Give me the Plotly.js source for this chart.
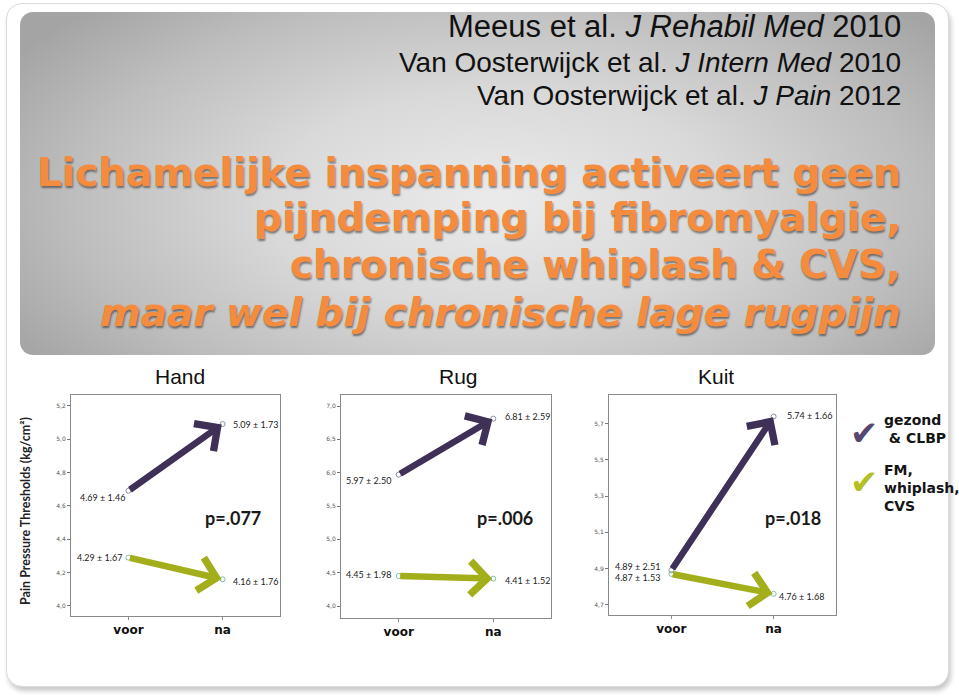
<!DOCTYPE html>
<html>
<head>
<meta charset="utf-8">
<script src="https://cdn.plot.ly/plotly-3.0.1.min.js"></script>
<style>
  html, body { margin:0; padding:0; background:#ffffff; overflow:hidden; }
  #wrap { position:relative; width:959px; height:697px; }
  #card { position:absolute; left:6px; top:3px; width:941px; height:682px; background:#ffffff;
          border:1px solid #dcdcdc; border-radius:16px; box-shadow:2px 4px 5px rgba(0,0,0,0.22); }
  #banner { position:absolute; left:20px; top:12px; width:915px; height:343px; border-radius:13px;
            background: radial-gradient(ellipse 62% 80% at 52% 55%, #ebebeb 0%, #d9d9d9 40%, #bdbdbd 75%, #a4a4a4 100%); }
  #chart { position:absolute; left:0; top:0; width:959px; height:697px; }
</style>
</head>
<body>
<div id="wrap">
  <div id="card"></div>
  <div id="banner"></div>
  <div id="chart"></div>
</div>
<script>
// ---------- data ----------
const phases = ["voor", "na"];
const groupNames = ["gezond & CLBP", "FM, whiplash, CVS"];
const panelTitles = ["Hand", "Rug", "Kuit"];
const pValues = ["p=.077", "p=.006", "p=.018"];

const handHealthy = [4.69, 5.09];
const handHealthySD = [1.46, 1.73];
const handPatient = [4.29, 4.16];
const handPatientSD = [1.67, 1.76];

const rugHealthy = [5.97, 6.81];
const rugHealthySD = [2.50, 2.59];
const rugPatient = [4.45, 4.41];
const rugPatientSD = [1.98, 1.52];

const kuitHealthy = [4.89, 5.74];
const kuitHealthySD = [2.51, 1.66];
const kuitPatient = [4.87, 4.76];
const kuitPatientSD = [1.53, 1.68];

const handTicks = [4.0, 4.2, 4.4, 4.6, 4.8, 5.0, 5.2];
const rugTicks = [4.0, 4.5, 5.0, 5.5, 6.0, 6.5, 7.0];
const kuitTicks = [4.7, 4.9, 5.1, 5.3, 5.5, 5.7];

const citations = [
  "Meeus et al. <i>J Rehabil Med</i> 2010",
  "Van Oosterwijck et al. <i>J Intern Med</i> 2010",
  "Van Oosterwijck et al. <i>J Pain</i> 2012"
];
const headline = [
  "Lichamelijke inspanning activeert geen",
  "pijndemping bij fibromyalgie,",
  "chronische whiplash &amp; CVS,",
  "<i>maar wel bij chronische lage rugpijn</i>"
];

// ---------- styling ----------
const W = 959, H = 697;
const PX = v => v / W;
const PY = v => 1 - v / H;
const PURPLE = "#3f3058";
const GREEN = "#a3ae1b";
const CHECK_PURPLE = "#56476e";
const CHECK_GREEN = "#b3bf22";

const panels = [
  { h: handHealthy, hsd: handHealthySD, p: handPatient, psd: handPatientSD, ticks: handTicks,
    xd: [PX(71), PX(280)], yd: [PY(616), PY(395)], yr: [3.94, 5.264], cx: 180,
    off: { h0: [-1, -7], h1: [8, 0], p0: [-4, 0], p1: [8, -2] } },
  { h: rugHealthy, hsd: rugHealthySD, p: rugPatient, psd: rugPatientSD, ticks: rugTicks,
    xd: [PX(341), PX(551)], yd: [PY(618), PY(395)], yr: [3.82, 7.165], cx: 458,
    off: { h0: [-6, -6], h1: [10, 2], p0: [-6, 2], p1: [10, -2] } },
  { h: kuitHealthy, hsd: kuitHealthySD, p: kuitPatient, psd: kuitPatientSD, ticks: kuitTicks,
    xd: [PX(609), PX(836)], yd: [PY(615), PY(395)], yr: [4.643, 5.859], cx: 716,
    off: { h0: [-9, 4], h1: [11, 1], p0: [-9, -4], p1: [3, -3] } }
];

const fmt = (m, s) => m.toFixed(2) + " \u00b1 " + s.toFixed(2);

const traces = [];
const annotations = [];
const layout = {
  width: W, height: H,
  margin: { l: 0, r: 0, t: 0, b: 0 },
  paper_bgcolor: "rgba(0,0,0,0)",
  plot_bgcolor: "#ffffff",
  separators: ",.",
  showlegend: false,
  font: { family: "Lato, 'Open Sans', sans-serif", color: "#222" }
};

panels.forEach((pn, i) => {
  const k = i === 0 ? "" : String(i + 1);
  const xa = "x" + k, ya = "y" + k;
  layout["xaxis" + k] = {
    domain: pn.xd, range: [-0.61, 1.61], tickvals: [0, 1],
    ticktext: phases.map(s => "<b>" + s + "</b>"),
    tickfont: { family: "'DejaVu Sans', sans-serif", size: 12, color: "#111" },
    showline: true, mirror: true, linecolor: "#8a8a8a", linewidth: 1,
    ticks: "outside", ticklen: 3, tickcolor: "#8a8a8a", showgrid: false, zeroline: false,
    fixedrange: true, anchor: ya
  };
  layout["yaxis" + k] = {
    domain: pn.yd, range: pn.yr, tickvals: pn.ticks, tickformat: ".1f",
    tickfont: { family: "'DejaVu Sans', sans-serif", size: 6, color: "#555" },
    showline: true, mirror: true, linecolor: "#8a8a8a", linewidth: 1,
    ticks: "outside", ticklen: 3, tickcolor: "#777", showgrid: false, zeroline: false,
    anchor: xa, fixedrange: true
  };

  // markers
  traces.push({ x: [0, 1], y: pn.h, xaxis: xa, yaxis: ya, mode: "markers", name: groupNames[0],
    marker: { symbol: "circle-open", size: 5, color: "#8d90a6", line: { width: 1 } }, hoverinfo: "y" });
  traces.push({ x: [0, 1], y: pn.p, xaxis: xa, yaxis: ya, mode: "markers", name: groupNames[1],
    marker: { symbol: "circle-open", size: 5, color: "#7fc0a0", line: { width: 1 } }, hoverinfo: "y" });

  // arrows
  [[pn.h, PURPLE], [pn.p, GREEN]].forEach(([vals, col]) => {
    annotations.push({ xref: xa, yref: ya, axref: xa, ayref: ya,
      x: 1, y: vals[1], ax: 0, ay: vals[0], text: "", showarrow: true,
      arrowhead: 4, arrowsize: 1.0, arrowwidth: 6.5, arrowcolor: col, standoff: 1 });
  });

  // value labels
  const lab = (x, y, txt, o, anchor) => annotations.push({ xref: xa, yref: ya, x: x, y: y, text: txt,
    showarrow: false, xanchor: anchor, yanchor: "middle", xshift: o[0], yshift: o[1],
    font: { family: "Lato, sans-serif", size: 9, color: "#222" } });
  lab(0, pn.h[0], fmt(pn.h[0], pn.hsd[0]), pn.off.h0, "right");
  lab(1, pn.h[1], fmt(pn.h[1], pn.hsd[1]), pn.off.h1, "left");
  lab(0, pn.p[0], fmt(pn.p[0], pn.psd[0]), pn.off.p0, "right");
  lab(1, pn.p[1], fmt(pn.p[1], pn.psd[1]), pn.off.p1, "left");

  // p value
  const pxCenter = [233, 505, 793][i];
  annotations.push({ xref: "paper", yref: "paper", x: PX(pxCenter), y: PY(518), text: "<b>" + pValues[i] + "</b>",
    showarrow: false, xanchor: "center", yanchor: "middle",
    font: { family: "Lato, sans-serif", size: 18, color: "#1a1a1a" } });

  // panel title
  annotations.push({ xref: "paper", yref: "paper", x: PX(pn.cx), y: PY(376), text: panelTitles[i],
    showarrow: false, xanchor: "center", yanchor: "middle",
    font: { family: "'Liberation Sans', Arial, sans-serif", size: 21, color: "#111" } });
});

// y axis title
annotations.push({ xref: "paper", yref: "paper", x: PX(25), y: PY(511), textangle: -90,
  text: "<b>Pain Pressure Thresholds (kg/cm\u00b2)</b>", showarrow: false, xanchor: "center", yanchor: "middle",
  font: { family: "Lato, sans-serif", size: 12.5, color: "#222" } });

// citations
const citeSizes = [31, 28, 28];
[27, 62, 96].forEach((yy, j) => annotations.push({ xref: "paper", yref: "paper", x: PX(903), y: PY(yy),
  text: citations[j], showarrow: false, xanchor: "right", yanchor: "middle",
  font: { family: "'Liberation Sans', Arial, sans-serif", size: citeSizes[j], color: "#111" } }));

// headline
[172, 218, 265, 312].forEach((yy, j) => annotations.push({ xref: "paper", yref: "paper", x: PX(903), y: PY(yy),
  text: "<b>" + headline[j] + "</b>", showarrow: false, xanchor: "right", yanchor: "middle",
  font: { family: "'DejaVu Sans', sans-serif", size: 39, color: "#f58b3c",
          shadow: "1px 2px 2px rgba(0,0,0,0.45)" } }));

// custom legend
annotations.push({ xref: "paper", yref: "paper", x: PX(864), y: PY(433), text: "\u2714", showarrow: false,
  xanchor: "center", yanchor: "middle", font: { family: "'DejaVu Sans', sans-serif", size: 34, color: CHECK_PURPLE } });
annotations.push({ xref: "paper", yref: "paper", x: PX(864), y: PY(482), text: "\u2714", showarrow: false,
  xanchor: "center", yanchor: "middle", font: { family: "'DejaVu Sans', sans-serif", size: 34, color: CHECK_GREEN } });
annotations.push({ xref: "paper", yref: "paper", x: PX(882), y: PY(429), text: "<b>gezond<br> &amp; CLBP</b>",
  showarrow: false, xanchor: "left", yanchor: "middle", align: "left",
  font: { family: "'DejaVu Sans', sans-serif", size: 14, color: "#151515" } });
annotations.push({ xref: "paper", yref: "paper", x: PX(882), y: PY(488), text: "<b>FM,<br>whiplash,<br>CVS</b>",
  showarrow: false, xanchor: "left", yanchor: "middle", align: "left",
  font: { family: "'DejaVu Sans', sans-serif", size: 14, color: "#151515" } });

layout.annotations = annotations;
Plotly.newPlot("chart", traces, layout, { displayModeBar: false, staticPlot: true });
</script>
</body>
</html>
